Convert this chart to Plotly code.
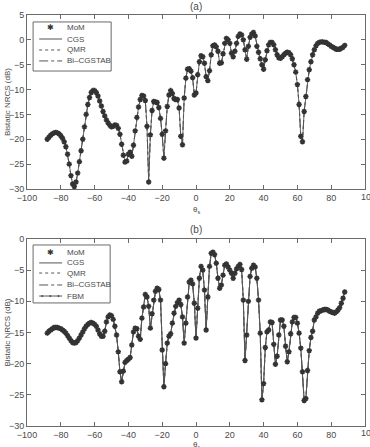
import plotly.graph_objects as go

# ---------------- data ----------------
theta = list(range(-88, 89))  # scattering angle grid (deg), 1-degree steps

# panel (a): bistatic NRCS (dB); MoM reference, iterative solvers coincide with it
nrcs_a = [
    -20.0, -19.6, -19.2, -18.9, -18.7, -18.6, -18.7, -18.9, -19.3, -19.8,   # -88..-79
    -20.5, -21.5, -23.0, -25.0, -27.3, -29.0, -29.5, -28.6, -26.8, -24.5,   # -78..-69
    -22.3, -20.0, -17.5, -15.0, -13.0, -11.6, -10.6, -10.2, -10.2, -10.6,   # -68..-59
    -11.3, -12.3, -13.3, -14.4, -15.3, -16.1, -16.7, -17.2, -17.5, -17.4,   # -58..-49
    -17.1, -17.2, -17.8, -19.0, -21.0, -23.2, -24.6, -24.4, -23.0, -22.6,   # -48..-39
    -23.4, -21.2, -18.3, -15.6, -13.5, -12.0, -11.2, -11.3, -12.2, -17.4,   # -38..-29
    -28.6, -19.1, -14.2, -12.4, -12.5, -12.6, -13.6, -15.8, -19.0, -23.8,   # -28..-19
    -18.3, -13.4, -11.1, -10.2, -10.8, -11.8, -12.0, -12.0, -13.7, -19.4,   # -18..-9
    -21.1, -11.7, -7.7, -5.9, -5.8, -6.3, -7.6, -11.1, -10.7, -7.0,         # -8..1
    -4.4, -3.2, -3.4, -4.7, -7.4, -8.2, -6.2, -3.0, -1.2, -1.0,             # 2..11
    -1.4, -2.3, -4.7, -4.6, -2.8, -0.7, 0.3, 0.0, -0.7, -2.7,               # 12..21
    -3.4, -2.3, -0.7, 0.7, 1.2, 1.0, 0.0, -2.0, -3.9, -1.3,                 # 22..31
    0.5, 1.2, 1.5, 0.8, -1.3, -2.5, -3.8, -5.0, -5.9, -4.0,                 # 32..41
    -2.2, -1.0, -0.5, -0.5, -1.0, -2.0, -3.0, -3.6, -3.7, -3.4,             # 42..51
    -3.0, -2.7, -2.5, -2.6, -3.0, -3.8, -5.0, -6.5, -9.0, -13.0,            # 52..61
    -19.4, -20.5, -14.4, -11.4, -8.0, -6.0, -4.4, -3.0, -2.0, -1.2,         # 62..71
    -0.7, -0.5, -0.4, -0.4, -0.5, -0.5, -0.8, -1.0, -1.3, -1.5,             # 72..81
    -1.7, -1.9, -1.9, -1.9, -1.7, -1.5, -1.1,                               # 82..88
]

# panel (b)
nrcs_b = [
    -15.1, -14.8, -14.6, -14.4, -14.2, -14.2, -14.2, -14.3, -14.4, -14.6,   # -88..-79
    -14.8, -15.1, -15.5, -15.9, -16.3, -16.6, -16.7, -16.6, -16.3, -15.9,   # -78..-69
    -15.4, -14.9, -14.4, -14.0, -13.7, -13.5, -13.4, -13.5, -13.7, -14.0,   # -68..-59
    -14.6, -15.2, -15.6, -15.6, -14.8, -13.3, -12.5, -12.2, -12.3, -12.9,   # -58..-49
    -14.0, -15.4, -18.1, -21.3, -22.9, -21.2, -19.8, -19.5, -19.3, -19.0,   # -48..-39
    -17.0, -14.9, -14.3, -14.4, -15.6, -16.1, -12.7, -10.9, -8.9, -9.3,     # -38..-29
    -10.8, -14.3, -12.0, -9.8, -8.4, -7.9, -8.1, -9.8, -17.8, -23.7,        # -28..-19
    -20.0, -16.7, -15.6, -15.2, -13.5, -11.9, -10.8, -10.2, -9.8, -10.5,    # -18..-9
    -12.5, -16.7, -13.5, -9.3, -6.9, -6.6, -7.2, -10.3, -15.9, -11.1,       # -8..1
    -6.3, -4.4, -5.0, -8.2, -14.6, -9.3, -4.4, -2.3, -2.1, -2.5,            # 2..11
    -3.9, -6.3, -7.9, -7.4, -5.8, -4.2, -4.0, -4.5, -5.0, -5.5,             # 12..21
    -6.3, -5.5, -4.8, -4.4, -4.1, -4.9, -9.8, -19.5, -15.4, -10.0,          # 22..31
    -6.0, -4.7, -4.2, -4.5, -6.3, -9.8, -15.1, -25.8, -23.2, -17.4,         # 32..41
    -14.9, -14.6, -13.3, -13.4, -16.9, -20.1, -18.8, -15.4, -13.0, -13.0,   # 42..51
    -14.0, -17.2, -19.7, -18.1, -15.2, -13.3, -12.6, -12.6, -13.5, -15.1,   # 52..61
    -17.5, -21.3, -25.9, -25.6, -21.1, -17.9, -15.8, -14.8, -13.0, -12.5,   # 62..71
    -11.9, -11.6, -11.5, -11.4, -11.3, -11.3, -11.4, -11.6, -11.7, -11.8,   # 72..81
    -11.9, -11.7, -11.4, -11.0, -10.3, -9.5, -8.5,                          # 82..88
]

x_ticks = [-100, -80, -60, -40, -20, 0, 20, 40, 60, 80, 100]
y_ticks_a = [-30, -25, -20, -15, -10, -5, 0, 5]
y_ticks_b = [-30, -25, -20, -15, -10, -5, 0]
legend_a = ["MoM", "CGS", "QMR", "Bi\u2013CGSTAB"]
legend_b = ["MoM", "CGS", "QMR", "Bi\u2013CGSTAB", "FBM"]

# ---------------- style ----------------
FONT = "Liberation Sans, Arial, Helvetica, sans-serif"
TXT = "#4a4a4a"
AX = "#6a6a6a"
LINE = "#555555"
MARK = "#333333"

fig = go.Figure()

def add_panel(xa, ya, vals, with_fbm):
    fig.add_trace(go.Scatter(x=theta, y=vals, mode="lines", xaxis=xa, yaxis=ya,
                             line=dict(color=LINE, width=0.9), showlegend=False, name="CGS"))
    fig.add_trace(go.Scatter(x=theta, y=vals, mode="lines", xaxis=xa, yaxis=ya,
                             line=dict(color=LINE, width=0.9, dash="dot"), showlegend=False, name="QMR"))
    fig.add_trace(go.Scatter(x=theta, y=vals, mode="lines", xaxis=xa, yaxis=ya,
                             line=dict(color=LINE, width=0.9, dash="dashdot"), showlegend=False, name="Bi-CGSTAB"))
    if with_fbm:
        fig.add_trace(go.Scatter(x=theta, y=vals, mode="lines+markers", xaxis=xa, yaxis=ya,
                                 line=dict(color=LINE, width=0.9),
                                 marker=dict(size=2, color=LINE), showlegend=False, name="FBM"))
    fig.add_trace(go.Scatter(x=theta, y=vals, mode="markers", xaxis=xa, yaxis=ya,
                             marker=dict(symbol="asterisk-open", size=4.5, color=MARK,
                                         line=dict(color=MARK, width=1.5)),
                             showlegend=False, name="MoM"))

add_panel("x", "y", nrcs_a, False)
add_panel("x2", "y2", nrcs_b, True)

axis_common = dict(showgrid=False, zeroline=False, showline=True, linecolor=AX, linewidth=1,
                   mirror="ticks", ticks="inside", ticklen=4, tickcolor=AX, tickwidth=1,
                   tickfont=dict(family=FONT, size=9, color=TXT))

# page 447 px high; margins t=15, b=12 -> paper spans 420 px (y=0 at 435 px)
fig.update_layout(
    width=370, height=447,
    margin=dict(l=27, r=5, t=15, b=12),
    paper_bgcolor="white", plot_bgcolor="white",
    showlegend=False,
    xaxis=dict(domain=[0, 1], anchor="y", range=[-100, 100], tickvals=x_ticks, **axis_common),
    yaxis=dict(domain=[0.5857, 1], anchor="x", range=[-30, 5], tickvals=y_ticks_a, **axis_common),
    xaxis2=dict(domain=[0, 1], anchor="y2", range=[-100, 100], tickvals=x_ticks, **axis_common),
    yaxis2=dict(domain=[0.0214, 0.4667], anchor="x2", range=[-30, 0], tickvals=y_ticks_b, **axis_common),
)

ann = []
def text(x, y, s, xref="paper", yref="paper", size=9, angle=0, xanchor="center", color=TXT, xshift=0):
    ann.append(dict(x=x, y=y, xref=xref, yref=yref, text=s, showarrow=False, textangle=angle,
                    xanchor=xanchor, yanchor="middle", xshift=xshift,
                    font=dict(family=FONT, size=size, color=color)))

# panel titles and axis titles
text(0.5, 1.0214, "(a)", size=10)
text(0.5, 0.4881, "(b)", size=10)
text(0.5, 0.5357, "\u03b8<sub>s</sub>", size=8)
text(0.5, -0.0238, "\u03b8<sub>s</sub>", size=8)
text(-0.059, 0.5, "Bistatic NRCS (dB)", xref="paper", yref="y domain", size=8, angle=-90)
text(-0.059, 0.5, "Bistatic NRCS (dB)", xref="paper", yref="y2 domain", size=8, angle=-90)
# right-end tick labels at the page edge, as in the original
text(0.982, 0.5667, str(x_ticks[-1]), xref="paper", yref="paper", size=9, xanchor="left")
text(0.982, 0.0048, str(x_ticks[-1]), xref="paper", yref="paper", size=9, xanchor="left")

shapes = []
def legend(xr, yr, box, rows, names):
    shapes.append(dict(type="rect", xref=xr, yref=yr, x0=box[0], x1=box[1], y0=box[2], y1=box[3],
                       line=dict(color=AX, width=1), fillcolor="white", layer="above"))
    styles = {"CGS": "solid", "QMR": "dot", "Bi\u2013CGSTAB": "dashdot", "FBM": "solid"}
    for yv, nm in zip(rows, names):
        if nm == "MoM":
            ann.append(dict(x=0.069, y=yv, xref=xr, yref=yr, text="\u2731", showarrow=False,
                            xanchor="center", yanchor="middle",
                            font=dict(family="DejaVu Sans", size=8, color=MARK)))
        else:
            shapes.append(dict(type="line", xref=xr, yref=yr, x0=0.036, x1=0.104, y0=yv, y1=yv,
                               line=dict(color=LINE, width=1, dash=styles[nm]), layer="above"))
            if nm == "FBM":
                for xd in (0.045, 0.069, 0.093):
                    shapes.append(dict(type="circle", xref=xr, yref=yr, x0=xd - 0.003, x1=xd + 0.003,
                                       y0=yv - 0.006, y1=yv + 0.006, fillcolor=LINE,
                                       line=dict(width=0), layer="above"))
        ann.append(dict(x=0.112, y=yv, xref=xr, yref=yr, text=nm, showarrow=False,
                        xanchor="left", yanchor="middle",
                        font=dict(family=FONT, size=8, color=TXT)))

legend("x domain", "y domain", (0.018, 0.249, 0.678, 0.960),
       [0.931, 0.862, 0.799, 0.736], legend_a)
legend("x2 domain", "y2 domain", (0.018, 0.246, 0.658, 0.968),
       [0.930, 0.872, 0.818, 0.754, 0.695], legend_b)

fig.update_layout(annotations=ann, shapes=shapes)
fig.write_html("out.html")
